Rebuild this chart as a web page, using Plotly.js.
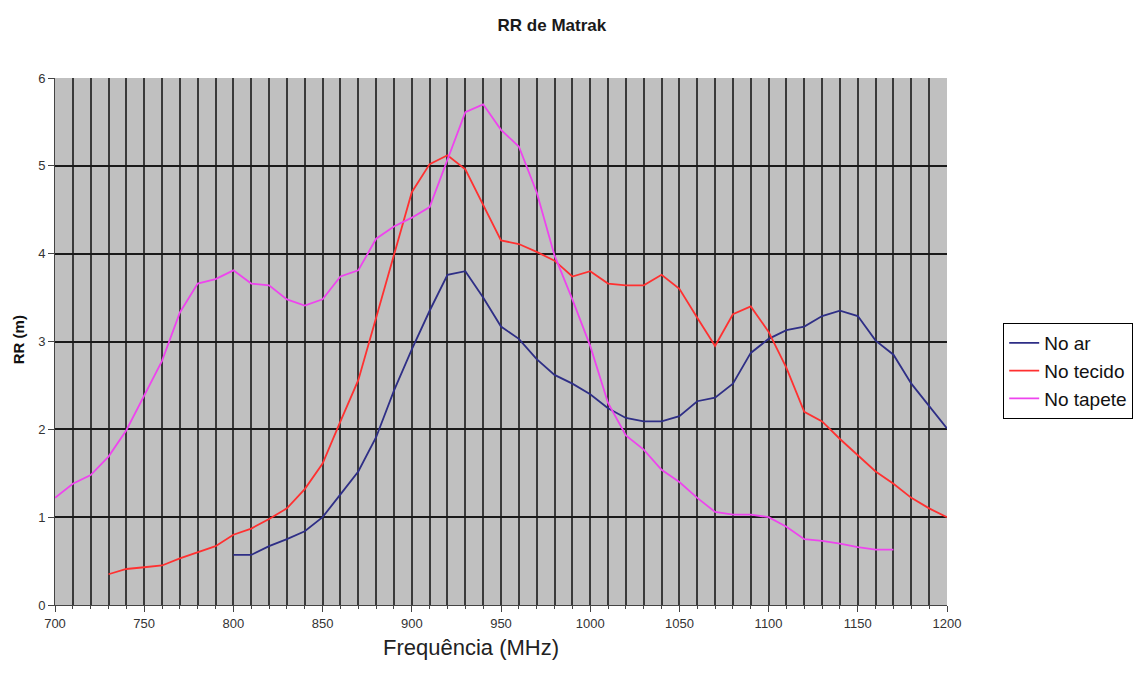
<!DOCTYPE html>
<html><head><meta charset="utf-8">
<script src="https://cdn.plot.ly/plotly-3.0.1.min.js"></script>
<style>html,body{margin:0;padding:0;background:#fff}</style>
</head><body><div id="chart" style="width:1145px;height:677px"></div>
<script>
const freqAr = [800,810,820,830,840,850,860,870,880,890,900,910,920,930,940,950,960,970,980,990,1000,1010,1020,1030,1040,1050,1060,1070,1080,1090,1100,1110,1120,1130,1140,1150,1160,1170,1180,1190,1200];
const noAr = [0.57,0.57,0.67,0.75,0.84,1.00,1.26,1.52,1.91,2.44,2.91,3.35,3.76,3.80,3.50,3.17,3.03,2.80,2.62,2.52,2.40,2.24,2.13,2.09,2.09,2.15,2.32,2.36,2.52,2.87,3.03,3.13,3.17,3.29,3.35,3.29,3.01,2.85,2.52,2.26,2.01];
const freqTecido = [730,740,750,760,770,780,790,800,810,820,830,840,850,860,870,880,890,900,910,920,930,940,950,960,970,980,990,1000,1010,1020,1030,1040,1050,1060,1070,1080,1090,1100,1110,1120,1130,1140,1150,1160,1170,1180,1190,1200];
const noTecido = [0.35,0.41,0.43,0.45,0.53,0.60,0.67,0.80,0.87,0.98,1.10,1.32,1.61,2.09,2.56,3.27,4.00,4.70,5.02,5.12,4.96,4.55,4.15,4.11,4.02,3.92,3.74,3.80,3.66,3.64,3.64,3.76,3.60,3.27,2.95,3.31,3.40,3.11,2.70,2.20,2.09,1.89,1.71,1.52,1.38,1.22,1.10,1.00];
const freqTapete = [700,710,720,730,740,750,760,770,780,790,800,810,820,830,840,850,860,870,880,890,900,910,920,930,940,950,960,970,980,990,1000,1010,1020,1030,1040,1050,1060,1070,1080,1090,1100,1110,1120,1130,1140,1150,1160,1170];
const noTapete = [1.22,1.38,1.48,1.69,1.99,2.38,2.78,3.33,3.66,3.71,3.81,3.66,3.64,3.48,3.41,3.48,3.74,3.81,4.17,4.31,4.41,4.53,5.07,5.61,5.70,5.41,5.22,4.70,3.98,3.48,2.95,2.30,1.93,1.77,1.54,1.40,1.22,1.06,1.03,1.03,1.00,0.89,0.75,0.73,0.70,0.66,0.63,0.63];
const seriesNames = ['No ar','No tecido','No tapete'];
const chartTitle = 'RR de Matrak';
const xTitle = 'Frequência (MHz)';
const yTitle = 'RR (m)';

const traces = [
  {x: freqAr, y: noAr, name: seriesNames[0], mode:'lines', line:{color:'#2e2e86', width:1.8}},
  {x: freqTecido, y: noTecido, name: seriesNames[1], mode:'lines', line:{color:'#ff3030', width:1.8}},
  {x: freqTapete, y: noTapete, name: seriesNames[2], mode:'lines', line:{color:'#ee44ee', width:1.8}}
];
const gridV = '#3a3a3a';
const layout = {
  width:1145, height:677,
  margin:{l:55, r:198, t:78, b:72},
  paper_bgcolor:'#ffffff', plot_bgcolor:'#c0c0c0',
  font:{family:'Liberation Sans, Arial, sans-serif', color:'#222'},
  title:{text:'<b>'+chartTitle+'</b>', x:0.482, xanchor:'center', y:0.963, yanchor:'middle', font:{size:17, color:'#1a1a1a'}},
  xaxis:{range:[700,1200], dtick:50, tick0:700, ticks:'outside', ticklen:6, tickcolor:'#444',
    showgrid:true, gridcolor:gridV, gridwidth:2,
    minor:{dtick:10, ticks:'outside', ticklen:3, tickcolor:'#444', showgrid:true, gridcolor:gridV, gridwidth:2},
    showline:true, linecolor:'#444', linewidth:1, zeroline:false,
    tickfont:{size:13, color:'#333'}},
  yaxis:{range:[0,6], dtick:1, ticks:'outside', ticklen:6, tickcolor:'#444',
    showgrid:true, gridcolor:'#1a1a1a', gridwidth:2,
    showline:true, linecolor:'#444', linewidth:1, zeroline:false,
    tickfont:{size:13, color:'#333'}},
  annotations:[
    {text:xTitle, xref:'paper', yref:'paper', x:0.466, y:-0.081, xanchor:'center', yanchor:'middle', showarrow:false,
      font:{size:22, color:'#222', family:'Liberation Sans, Arial, sans-serif'}},
    {text:'<b>'+yTitle+'</b>', xref:'paper', yref:'paper', x:-0.040, y:0.503, xanchor:'center', yanchor:'middle', showarrow:false,
      textangle:-90, font:{size:15, color:'#111'}}
  ],
  showlegend:true,
  legend:{x:1.063, y:0.535, xanchor:'left', yanchor:'top', bgcolor:'#ffffff', bordercolor:'#000', borderwidth:1,
    font:{size:19, color:'#111'}, tracegroupgap:0, itemwidth:30}
};
Plotly.newPlot('chart', traces, layout, {displayModeBar:false, staticPlot:true});
</script></body></html>
